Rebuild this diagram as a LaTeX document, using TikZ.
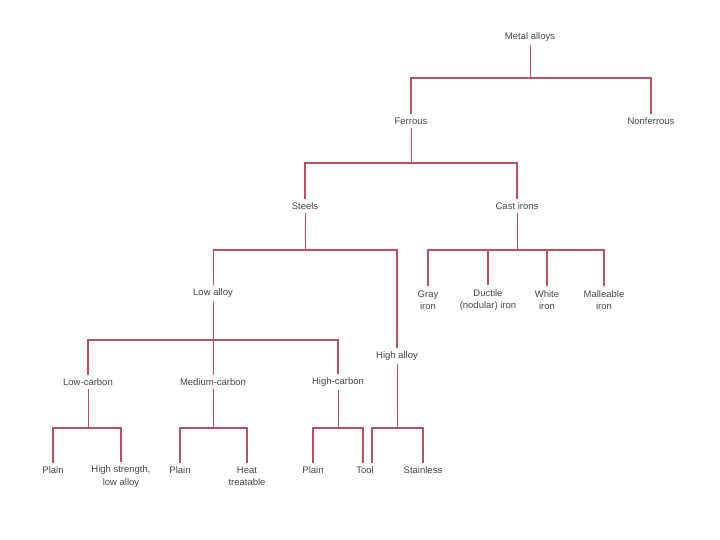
\documentclass[tikz,border=0pt]{standalone}
\usepackage{fontspec}
\setmainfont{Liberation Sans}
\definecolor{ln}{RGB}{190,80,100}
\definecolor{tx}{RGB}{70,70,70}
\begin{document}
\begin{tikzpicture}[x=1pt,y=-1pt,
  lbl/.style={font=\fontsize{9.5}{12.5}\selectfont, text=tx, align=center, inner sep=1pt, outer sep=3pt},
  stem/.style={draw=ln, line width=1pt},
  bar/.style={draw=ln, line width=1.6pt}]
\useasboundingbox (0,0) rectangle (720,540);
% nodes
\node[lbl] (root) at (530,37) {Metal alloys};
\node[lbl] (fer) at (411,121) {Ferrous};
\node[lbl] (nonf) at (651,121) {Nonferrous};
\node[lbl] (steel) at (305,206) {Steels};
\node[lbl] (cast) at (517,206) {Cast irons};
\node[lbl] (low) at (213,293) {Low alloy};
\node[lbl] (high) at (397,356) {High alloy};
\node[lbl] (gray) at (428,300) {Gray\\iron};
\node[lbl] (duct) at (488,300) {Ductile\\(nodular) iron};
\node[lbl] (white) at (547,300) {White\\iron};
\node[lbl] (mall) at (604,300) {Malleable\\iron};
\node[lbl] (lc) at (88,382) {Low-carbon};
\node[lbl] (mc) at (213,382) {Medium-carbon};
\node[lbl] (hc) at (338,382) {High-carbon};
\node[lbl] (p1) at (53,470) {Plain};
\node[lbl] (hsla) at (121,476.5) {High strength,\\low alloy};
\node[lbl] (p2) at (180,470) {Plain};
\node[lbl] (heat) at (247,476.5) {Heat\\treatable};
\node[lbl] (p3) at (313,470) {Plain};
\node[lbl] (tool) at (365,470) {Tool};
\node[lbl] (stain) at (423,470) {Stainless};
% junctions
\coordinate (b0) at (530,78);
\coordinate (b1) at (411,163);
\coordinate (b2) at (305,250);
\coordinate (b3) at (517,250);
\coordinate (b4) at (213,340);
\coordinate (b5) at (397,428);
\coordinate (b6) at (88,428);
\coordinate (b7) at (213,428);
\coordinate (b8) at (338,428);
\coordinate (t1) at (363,428);
\coordinate (t2) at (372,428);
% connectors
\draw[stem] (root) -- (b0);
\draw[bar] (fer.north) |- (b0) -| (nonf.north);
\draw[stem] (fer) -- (b1);
\draw[bar] (steel.north) |- (b1) -| (cast.north);
\draw[stem] (steel) -- (b2);
\draw[bar] (b2) -| (high.north);
\draw[bar] (b2) -- (b2 -| low.north);
\draw[stem] (b2 -| low.north) -- (low.north);
\draw[stem] (cast) -- (b3);
\draw[bar] (gray.north) |- (b3) -| (mall.north);
\draw[bar] (duct.north) -- (duct.north |- b3);
\draw[bar] (white.north) -- (white.north |- b3);
\draw[stem] (low) -- (mc);
\draw[bar] (lc.north) |- (b4) -| (hc.north);
\draw[stem] (high) -- (b5);
\draw[bar] (t2 |- tool.north) -- (t2) -- (b5) -| (stain.north);
\draw[stem] (lc) -- (b6);
\draw[bar] (p1.north) |- (b6) -| (hsla.north);
\draw[stem] (mc) -- (b7);
\draw[bar] (p2.north) |- (b7) -| (heat.north);
\draw[stem] (hc) -- (b8);
\draw[bar] (p3.north) |- (b8) -- (t1) -- (t1 |- tool.north);
\end{tikzpicture}
\end{document}
